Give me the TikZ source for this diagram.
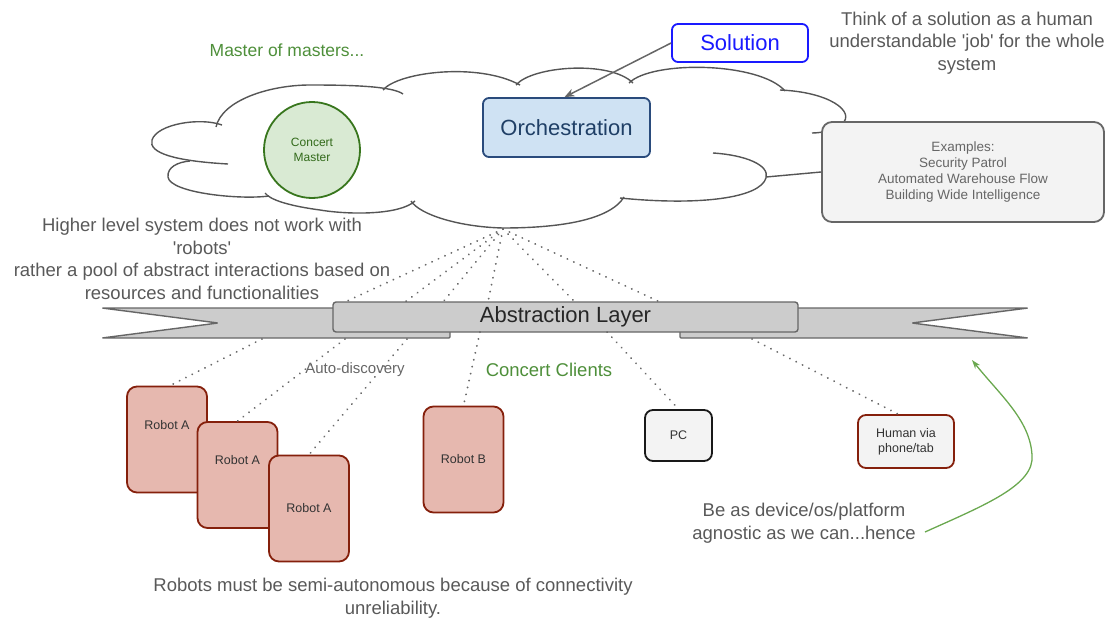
\documentclass[tikz,border=0pt]{standalone}
\usepackage{fontspec}
\setmainfont{Liberation Sans}
% same face without the TeX quote mapping, for straight apostrophes
\newfontfamily\plainsans{Liberation Sans}
\usetikzlibrary{arrows.meta,calc}

\definecolor{gtext}{HTML}{595959}
\definecolor{gline}{HTML}{555555}
\definecolor{dotc}{HTML}{6A6A6A}
\definecolor{greentxt}{HTML}{4E8F3A}
\definecolor{greenarr}{HTML}{6AA84F}
\definecolor{masterfill}{HTML}{D9EAD3}
\definecolor{masterdraw}{HTML}{38761D}
\definecolor{orchfill}{HTML}{CFE2F3}
\definecolor{orchdraw}{HTML}{2A4B7C}
\definecolor{orchtext}{HTML}{1F3F66}
\definecolor{solblue}{HTML}{1A1AFF}
\definecolor{boxgray}{HTML}{F3F3F3}
\definecolor{robotfill}{HTML}{E6B8AF}
\definecolor{robotdraw}{HTML}{85200C}
\definecolor{bannerfill}{HTML}{CCCCCC}
\definecolor{bannerdraw}{HTML}{666666}

\newcommand\myfs[2]{\fontsize{#1}{#2}\selectfont}

\tikzset{
  note/.style={font=\plainsans\myfs{18.5}{22.5}, text=gtext, align=center, inner sep=0pt},
  greennote/.style={note, text=greentxt},
  robot/.style={draw=robotdraw, fill=robotfill, line width=1.8pt, rounded corners=10pt,
                minimum width=80pt, minimum height=106pt, inner sep=0pt,
                font=\myfs{12.5}{15}, text=black!80},
  smalltxt/.style={font=\myfs{12.5}{15}, text=black!80, align=center, inner sep=0pt},
  device/.style={fill=boxgray, line width=1.8pt, rounded corners=8pt, inner sep=0pt,
                 font=\myfs{12.5}{15}, text=black!80, align=center},
  dots/.style={draw=dotc, line width=2pt, line cap=round, dash pattern=on 0.1pt off 7pt},
  lobe/.style={draw=gline, line width=1.4pt},
}

\begin{document}
\begin{tikzpicture}[x=1pt,y=-1pt]
\useasboundingbox (0,0) rectangle (1106,618);

% ---------- cloud (drawn lobe by lobe) ----------
\draw[lobe] (228,164) .. controls (175,161) and (148,153) .. (152,140)
            .. controls (157,124) and (200,117) .. (222,125);
\draw[lobe] (216,127) .. controls (222,100) and (270,85) .. (310,85)
            .. controls (350,85) and (392,86) .. (403,94);
\draw[lobe] (383,90) .. controls (398,72) and (478,62) .. (520,85);
\draw[lobe] (516,85) .. controls (532,66) and (610,60) .. (633,83);
\draw[lobe] (629,83) .. controls (652,60) and (760,62) .. (785,91);
\draw[lobe] (780,90) .. controls (830,92) and (856,112) .. (842,124)
            .. controls (834,130) and (822,133) .. (812,133);
\draw[lobe] (713,153) .. controls (745,155) and (770,165) .. (766,178)
            .. controls (760,198) and (700,206) .. (620,198);
\draw[lobe] (624,197) .. controls (610,220) and (560,228) .. (503,228)
            .. controls (460,227) and (420,215) .. (411,201);
\draw[lobe] (415,201) .. controls (400,215) and (350,215) .. (320,210)
            .. controls (290,206) and (270,200) .. (265,193);
\draw[lobe] (269,196) .. controls (240,200) and (170,193) .. (168,177)
            .. controls (167,167) and (178,162) .. (190,161);

\coordinate (cloudbot) at (503,229);
\coordinate (cloudright) at (766,177);

% ---------- upper nodes ----------
\node[draw=masterdraw, fill=masterfill, line width=1.8pt, circle, minimum size=96pt,
      inner sep=0pt, font=\myfs{12}{15}, text=masterdraw!90!black, align=center]
      (master) at (312,150) {Concert\\Master};

\node[draw=orchdraw, fill=orchfill, line width=1.8pt, rounded corners=6pt,
      minimum width=167pt, minimum height=59pt, inner sep=0pt,
      font=\myfs{22}{26}, text=orchtext] (orch) at (566.5,127.5) {Orchestration};

\node[draw=solblue, fill=white, line width=1.8pt, rounded corners=6pt,
      minimum width=136pt, minimum height=38pt, inner sep=0pt,
      font=\myfs{22}{26}, text=solblue] (sol) at (740,43) {Solution};

\node[draw=bannerdraw, fill=boxgray, line width=1.8pt, rounded corners=10pt,
      minimum width=282pt, minimum height=100pt, inner sep=0pt,
      font=\myfs{13.5}{16.3}, text=black!60, align=center]
      (ex) at (963,172) {Examples:\\Security Patrol\\Automated Warehouse Flow\\Building Wide Intelligence};

\draw[draw=gline, line width=1.4pt] (cloudright) -- (ex.west);

\draw[draw=black!60, line width=1.5pt, -{Stealth[length=10pt,width=8pt]}]
      (sol.west) -- ($(orch.north)+(-2,0)$);

% ---------- free texts ----------
\node[greennote, font=\myfs{17.5}{21}] (mom) at (287,50) {Master of masters...};
\node[note] (think) at (967,43) {Think of a solution as a human\\understandable 'job' for the whole\\system};
\node[note] (higher) at (202,259) {Higher level system does not work with\\'robots'\\rather a pool of abstract interactions based on\\resources and functionalities};

% ---------- abstraction layer banner ----------
\draw[draw=bannerdraw, fill=bannerfill, line width=1.4pt, rounded corners=1pt]
      (102,308) -- (450,308) -- (450,338) -- (102,338) -- (218,323) -- cycle;
\draw[draw=bannerdraw, fill=bannerfill, line width=1.4pt, rounded corners=1pt]
      (1028,308) -- (680,308) -- (680,338) -- (1028,338) -- (912,323) -- cycle;
\node[draw=bannerdraw, fill=bannerfill, line width=1.4pt, rounded corners=3pt,
      minimum width=465pt, minimum height=30pt, inner sep=0pt,
      font=\myfs{22}{26}, text=black!85] (abs) at (565.5,317) {Abstraction Layer};

% ---------- clients ----------
\node[robot] (ra1) at (167,439.5) {};
\node[smalltxt] (ra1t) at (167,425) {Robot A};
\node[robot] (ra2) at (237.5,475) {};
\node[smalltxt] (ra2t) at (237.5,460) {Robot A};
\node[robot] (ra3) at (309,508.5) {Robot A};
\node[robot] (rb) at (463.5,459.5) {Robot B};

\node[device, draw=black!90, minimum width=67pt, minimum height=51pt] (pc) at (678.5,435.5) {PC};
\node[device, draw=robotdraw, minimum width=96pt, minimum height=53pt] (hum) at (906,441.5) {Human via\\phone/tab};

\node[note, font=\myfs{15}{18}, text=black!60] (auto) at (355,370) {Auto-discovery};
\node[greennote] (clients) at (549,370) {Concert Clients};

\node[note] (robotsnote) at (393,598) {Robots must be semi-autonomous because of connectivity\\unreliability.};
\node[note] (agn) at (804,523) {Be as device/os/platform\\agnostic as we can...hence};

% ---------- dotted links: cloud to abstraction layer ----------
\foreach \x [count=\i] in {345,405,443,488,575,660}{
  \coordinate (up\i) at (\x,302);
  \draw[dots] (cloudbot) -- (up\i);
}

% ---------- dotted links: abstraction layer to clients ----------
\coordinate (lo1) at (262,339);
\coordinate (lo2) at (345,339);
\coordinate (lo3) at (407,339);
\coordinate (lo4) at (480,332);
\coordinate (lo5) at (607,332);
\coordinate (lo6) at (752,339);
\draw[dots] (lo1) -- ($(ra1.north)+(3,0)$);
\draw[dots] (lo2) -- (ra2.north);
\draw[dots] (lo3) -- (ra3.north);
\draw[dots] (lo4) -- (rb.north);
\draw[dots] (lo5) -- (pc.north);
\draw[dots] (lo6) -- ($(hum.north)+(-8,0)$);

% ---------- green pointer ----------
\coordinate (gstart) at (925,532);
\coordinate (gtip) at (972,360);
\draw[draw=greenarr, line width=1.3pt, -{Stealth[length=9pt,width=6pt]}]
      (gstart) .. controls (985,505) and (1035,485) .. (1032,455)
      .. controls (1030,420) and (1000,395) .. (gtip);
\end{tikzpicture}
\end{document}
